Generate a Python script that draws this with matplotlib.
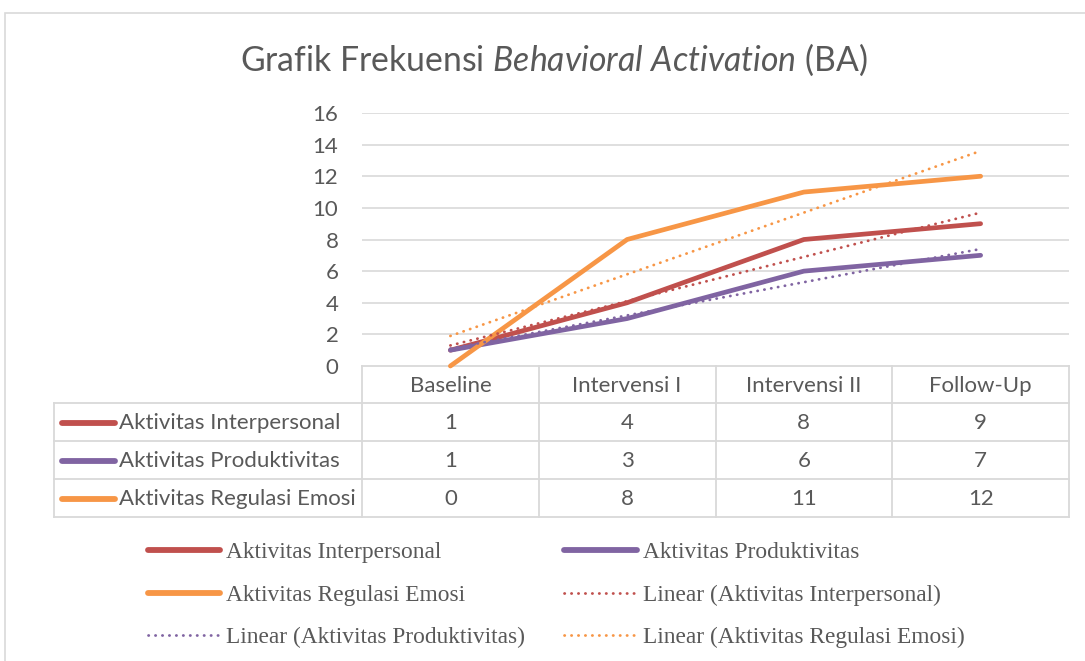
import matplotlib
matplotlib.use("Agg")
import matplotlib.pyplot as plt
import numpy as np
from matplotlib.lines import Line2D
from matplotlib.patches import Rectangle

categories = ["Baseline", "Intervensi I", "Intervensi II", "Follow-Up"]
series_names = ["Aktivitas Interpersonal", "Aktivitas Produktivitas", "Aktivitas Regulasi Emosi"]
interpersonal = [1, 4, 8, 9]
produktivitas = [1, 3, 6, 7]
regulasi = [0, 8, 11, 12]
series_values = [interpersonal, produktivitas, regulasi]
colors = ["#C0504D", "#8064A2", "#F79646"]
yticks = [0, 2, 4, 6, 8, 10, 12, 14, 16]

W, H = 1085, 661
plt.rcParams['font.family'] = ['Lato', 'DejaVu Sans']
plt.rcParams['mathtext.fontset'] = 'custom'
plt.rcParams['mathtext.rm'] = 'Lato'
plt.rcParams['mathtext.it'] = 'Lato:italic'
fig = plt.figure(figsize=(W / 100, H / 100), dpi=100)
txt = "#595959"
grid = "#D9D9D9"

def fx(px):
    return px / W

def fy(py):
    return 1 - py / H

# outer border
fig.patches.append(Rectangle((fx(5), fy(700)), fx(1200), fy(13) - fy(700), transform=fig.transFigure,
                             fill=False, edgecolor=grid, lw=1.2))

L, R, T, B = 362, 1069, 113, 366
ax = fig.add_axes([fx(L), fy(B), fx(R) - fx(L), fy(T) - fy(B)])
x = np.arange(len(categories))
ax.set_xlim(-0.5, len(categories) - 0.5)
ax.set_ylim(0, 16)
ax.set_yticks(yticks)
ax.set_yticklabels([str(v) for v in yticks], fontsize=16, color=txt)
ax.tick_params(axis='y', length=0, pad=17)
ax.set_xticks([])
for s in ax.spines.values():
    s.set_visible(False)
for v in yticks[1:]:
    ax.axhline(v, color=grid, lw=1.2, zorder=0)

for vals, c in zip(series_values, colors):
    ax.plot(x, vals, color=c, lw=3.4, solid_capstyle='round', zorder=3, clip_on=False)
for vals, c in zip(series_values, colors):
    k, b = np.polyfit(x, vals, 1)
    ax.plot(x, k * x + b, color=c, lw=2.0, linestyle=(0, (0.1, 2.4)), dash_capstyle='round', zorder=4,
            clip_on=False)

# data table
ah = B - T
row_px = [366, 403, 441, 479, 517]
def ay(py):
    return (B - py) / ah
aw = R - L
def axf(px):
    return (px - L) / aw

tkw = dict(transform=ax.transAxes, clip_on=False)
ax.add_line(Line2D([0, 1], [ay(366)] * 2, color=grid, lw=1.3, **tkw))
for py in row_px[1:]:
    ax.add_line(Line2D([axf(54), 1], [ay(py)] * 2, color=grid, lw=1.3, **tkw))
bounds = np.arange(len(categories) + 1) - 0.5
for bx in bounds:
    xa = (bx + 0.5) / len(categories)
    ax.add_line(Line2D([xa, xa], [ay(366), ay(517)], color=grid, lw=1.3, **tkw))
ax.add_line(Line2D([axf(54)] * 2, [ay(403), ay(517)], color=grid, lw=1.3, **tkw))

for i, cat in enumerate(categories):
    xa = (i + 0.5) / len(categories)
    ax.text(xa, ay((366 + 403) / 2 + 1), cat, ha='center', va='center', fontsize=16, color=txt, **tkw)
for r, (name, vals, c) in enumerate(zip(series_names, series_values, colors)):
    yc = ay((row_px[r + 1] + row_px[r + 2]) / 2 + 1)
    ax.add_line(Line2D([axf(62), axf(115)], [yc, yc], color=c, lw=4.2, solid_capstyle='round', **tkw))
    ax.text(axf(119), yc, name, ha='left', va='center', fontsize=16, color=txt, **tkw)
    for i, v in enumerate(vals):
        xa = (i + 0.5) / len(categories)
        ax.text(xa, yc, str(v), ha='center', va='center', fontsize=16, color=txt, **tkw)

# title
fig.text(fx(554), fy(60), r"Grafik Frekuensi $\it{Behavioral\ Activation}$ (BA)", ha='center', va='center',
         fontsize=24.3, color=txt)

# legend
handles = []
labels = []
for name, c in zip(series_names, colors):
    handles.append(Line2D([], [], color=c, lw=4.2, solid_capstyle='round'))
    labels.append(name)
for name, c in zip(series_names, colors):
    handles.append(Line2D([], [], color=c, lw=2.0, linestyle=(0, (0.1, 2.4)), dash_capstyle='round'))
    labels.append("Linear (" + name + ")")
order = [0, 2, 4, 1, 3, 5]
leg = fig.legend([handles[i] for i in order], [labels[i] for i in order], ncol=2,
                 loc='center left', bbox_to_anchor=(fx(127), fy(595)), frameon=False,
                 prop={'family': 'Liberation Serif', 'size': 16.8}, handlelength=3.1, handletextpad=0.25,
                 columnspacing=1.68, labelspacing=0.9, labelcolor=txt)

fig.savefig("out.png", dpi=100)
